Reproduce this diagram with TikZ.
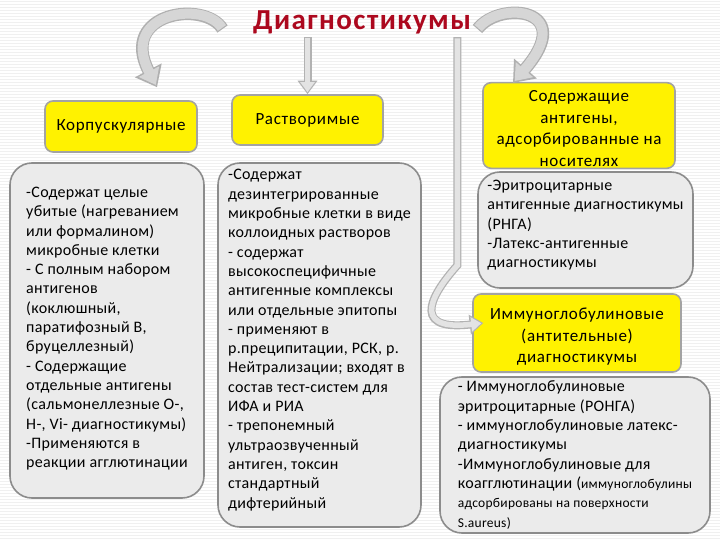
\documentclass[tikz,border=0pt]{standalone}
\usepackage{fontspec}
\setmainfont{Carlito}[LetterSpace=2]
\newfontfamily\headfont{Carlito}[LetterSpace=4]
\newfontfamily\titlefont{Carlito}[LetterSpace=5]
\usetikzlibrary{arrows.meta}

\definecolor{titlered}{RGB}{172,8,30}
\definecolor{boxgray}{RGB}{235,235,235}
\definecolor{edgegray}{RGB}{140,140,140}

\begin{document}
\begin{tikzpicture}[
  x=1pt, y=-1pt,
  font=\fontsize{16}{19.3}\selectfont,
  head/.style={
    rectangle,
    rounded corners=8pt,
    draw=edgegray!80,
    fill=yellow,
    line width=1.6pt,
    align=center,
    inner sep=2pt,
    font=\headfont\fontsize{17}{21.5}\selectfont
  },
  info/.style={
    rectangle,
    rounded corners=22pt,
    draw=edgegray,
    fill=boxgray,
    line width=1.6pt,
    align=left,
    inner sep=0pt
  },
  bigarrow/.style={
    line width=10pt, draw=gray!32,
    -{Triangle[length=15pt,width=22pt]},
    shorten >=2.5pt, shorten <=1.2pt,
    preaction={draw=gray!62, line width=12.5pt,
      -{Triangle[length=19pt,width=29pt]},
      shorten >=0pt, shorten <=0pt}
  },
  thinarrow/.style={
    line width=5.5pt, draw=gray!22,
    -{Triangle[length=10pt,width=14pt]},
    shorten >=2pt, shorten <=1.2pt,
    preaction={draw=gray!60, line width=8pt,
      -{Triangle[length=13.5pt,width=19pt]},
      shorten >=0pt, shorten <=0pt}
  }
]
  \useasboundingbox (0,0) rectangle (720,540);
  \fill[white] (0,0) rectangle (720,540);
  \foreach \yy in {1,4,...,540}
    \draw[gray!12, line width=0.8pt] (0,\yy) -- (720,\yy);

  \node[font=\titlefont\fontsize{29}{32}\selectfont\bfseries, text=titlered] (title) at (362,22) {Диагностикумы};

  % upper boxes
  \node[head, minimum width=152pt, minimum height=51pt] (korp) at (121,126.5) {Корпускулярные};
  \node[head, minimum width=151pt, minimum height=50pt] (rastv) at (307.5,120) {Растворимые};
  \node[head, minimum width=192pt, minimum height=85pt] (adsorb) at (579,125.5)
    {\rule{0pt}{17pt}Содержащие\\антигены,\\адсорбированные на\\носителях};
  \node[head, minimum width=208pt, minimum height=78pt] (immuno) at (577,333)
    {\rule{0pt}{19pt}Иммуноглобулиновые\\(антительные)\\диагностикумы};

  % text boxes
  \node[info, minimum width=194pt, minimum height=335pt] (korptext) at (107,330.5)
    {-Содержат целые\\убитые (нагреванием\\или формалином)\\микробные клетки\\- С полным набором\\антигенов\\(коклюшный,\\паратифозный В,\\бруцеллезный)\\- Содержащие\\отдельные антигены\\(сальмонеллезные О-,\\Н-, Vi- диагностикумы)\\-Применяются в\\реакции агглютинации\\[-13pt]};
  \node[info, minimum width=203pt, minimum height=364pt] (rastvtext) at (319.5,345)
    {-Содержат\\дезинтегрированные\\микробные клетки в виде\\коллоидных растворов\\- содержат\\высокоспецифичные\\антигенные комплексы\\или отдельные эпитопы\\- применяют в\\р.преципитации, РСК, р.\\Нейтрализации; входят в\\состав тест-систем для\\ИФА и РИА\\- трепонемный\\ультраозвученный\\антиген, токсин\\стандартный\\дифтерийный\\[-7pt]};
  \node[info, minimum width=215pt, minimum height=116pt] (adsorbtext) at (585.5,230)
    {-Эритроцитарные\\антигенные диагностикумы\\(РНГА)\\-Латекс-антигенные\\диагностикумы\\[-7pt]};
  \node[info, minimum width=270pt, minimum height=156pt] (immunotext) at (575,455)
    {- Иммуноглобулиновые\\эритроцитарные (РОНГА)\\- иммуноглобулиновые латекс-\\диагностикумы\\-Иммуноглобулиновые для\\коагглютинации ({\fontsize{13.5}{18}\selectfont иммуноглобулины}\\{\fontsize{13.5}{18}\selectfont адсорбированы на поверхности}\\{\fontsize{13.5}{18}\selectfont S.aureus)}};

  % arrows from the title
  \draw[bigarrow] ([xshift=-27pt,yshift=-7pt]title.west) .. controls (205,0) and (118,12) .. ([xshift=36pt,yshift=13pt]korp.north);
  \draw[thinarrow] (title.south -| rastv.north) -- (rastv.north);
  \draw[bigarrow] ([xshift=3pt,yshift=-7pt]title.east) .. controls (500,0) and (578,8) .. ([xshift=-66pt,yshift=-1pt]adsorb.north);
  \draw[thinarrow] ([xshift=-17pt]title.south east) -- ++(0,228) .. controls (437,288) and (405,332) .. ([xshift=11pt,yshift=10pt]immuno.west);
\end{tikzpicture}
\end{document}
